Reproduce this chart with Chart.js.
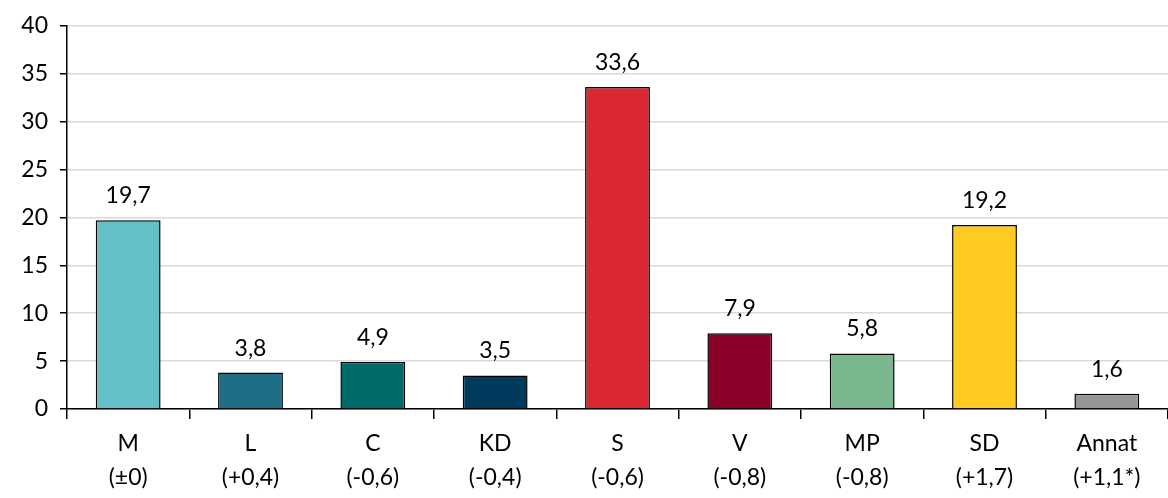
<!DOCTYPE html>
<html lang="sv">
<head>
    <meta charset="UTF-8">
    <title>Väljarbarometer</title>
    <script src="https://cdn.jsdelivr.net/npm/chart.js"></script>
    <style>
        html, body { margin: 0; padding: 0; background: #fff; }
        .wrap { width: 1168px; height: 498px; position: relative; }
    </style>
</head>
<body>
    <div class="wrap">
        <canvas id="chart"></canvas>
    </div>
    <script>
        // Partier, förändring och andel (%)
        const parties = ['M', 'L', 'C', 'KD', 'S', 'V', 'MP', 'SD', 'Annat'];
        const changes = ['(±0)', '(+0,4)', '(-0,6)', '(-0,4)', '(-0,6)', '(-0,8)', '(-0,8)', '(+1,7)', '(+1,1*)'];
        const shares = [19.7, 3.8, 4.9, 3.5, 33.6, 7.9, 5.8, 19.2, 1.6];
        const colors = ['#64bfc9', '#1e6e85', '#006b6b', '#003a5c', '#dc2832', '#8b0028', '#7ab68e', '#ffcb20', '#969696'];
        const yTicks = [0, 5, 10, 15, 20, 25, 30, 35, 40];

        const fontFamily = 'Lato, "Open Sans", sans-serif';

        const valueLabels = {
            id: 'valueLabels',
            afterDatasetsDraw(chart) {
                const ctx = chart.ctx;
                const meta = chart.getDatasetMeta(0);
                ctx.save();
                ctx.font = '23px ' + fontFamily;
                ctx.fillStyle = '#000';
                ctx.textAlign = 'center';
                ctx.textBaseline = 'bottom';
                meta.data.forEach((bar, i) => {
                    ctx.fillText(shares[i].toFixed(1).replace('.', ','), bar.x, bar.y - 13);
                });
                ctx.restore();
            }
        };

        new Chart(document.getElementById('chart'), {
            type: 'bar',
            data: {
                labels: parties.map((p, i) => [p, changes[i]]),
                datasets: [{
                    data: shares,
                    backgroundColor: colors,
                    borderColor: '#000',
                    borderWidth: 1.5,
                    categoryPercentage: 1,
                    barPercentage: 0.53
                }]
            },
            options: {
                responsive: true,
                maintainAspectRatio: false,
                animation: false,
                layout: { padding: { top: 24, right: 0, left: 0, bottom: 0 } },
                plugins: {
                    legend: { display: false },
                    tooltip: { enabled: false }
                },
                scales: {
                    x: {
                        grid: {
                            offset: true,
                            drawOnChartArea: false,
                            drawTicks: true,
                            tickLength: 10,
                            color: '#000',
                            lineWidth: 1.5
                        },
                        border: { color: '#000', width: 1.5 },
                        ticks: {
                            color: '#000',
                            font: { family: fontFamily, size: 23, lineHeight: 1.5 },
                            padding: 7,
                            maxRotation: 0
                        },
                        afterFit(scale) { scale.height = 89; }
                    },
                    y: {
                        min: 0,
                        max: 40,
                        afterBuildTicks(scale) { scale.ticks = yTicks.map(v => ({ value: v })); },
                        grid: {
                            color: '#d9d9d9',
                            lineWidth: 1.5,
                            tickColor: '#000',
                            tickLength: 7
                        },
                        border: { color: '#000', width: 1.5 },
                        ticks: {
                            color: '#000',
                            font: { family: fontFamily, size: 23 },
                            padding: 12
                        },
                        afterFit(scale) { scale.width = 67; }
                    }
                }
            },
            plugins: [valueLabels]
        });
    </script>
</body>
</html>
